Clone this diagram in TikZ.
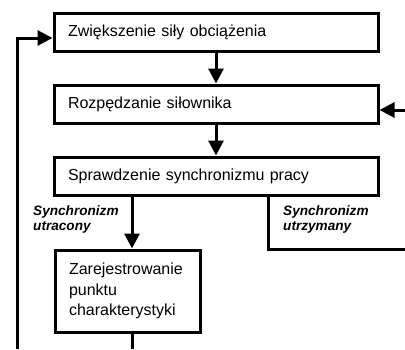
\documentclass[tikz,border=0pt]{standalone}
\usepackage{fontspec}
\setmainfont{Liberation Sans}
\usetikzlibrary{arrows.meta}
\begin{document}
\begin{tikzpicture}[x=1pt,y=-1pt,
  box/.style={draw,line width=3pt,inner xsep=14pt,inner ysep=0pt,align=left,
    font=\fontsize{16}{20.5}\selectfont,anchor=center},
  lbl/.style={align=left,font=\fontsize{13.6}{15}\selectfont\bfseries\itshape,anchor=base west,inner sep=0pt},
  conn/.style={line width=3pt},
  arr/.style={conn,-{Triangle[length=15pt,width=15pt]}}]
\useasboundingbox (0,0) rectangle (405,349);
\node[box,text width=296pt,minimum height=38pt] (b1) at (216,32) {Zwiększenie siły obciążenia};
\node[box,text width=296pt,minimum height=38pt] (b2) at (216,104) {Rozpędzanie siłownika};
\node[box,text width=296pt,minimum height=38pt] (b3) at (216,176) {Sprawdzenie synchronizmu pracy};
\node[box,text width=117pt,minimum height=82pt] (b4) at (127.5,291) {Zarejestrowanie\\punktu\\charakterystyki};
\node[lbl] (l1) at (33,230) {Synchronizm\\utracony};
\node[lbl] (l2) at (283,230) {Synchronizm\\utrzymany};
\coordinate (lb) at (17,349);
\coordinate (lt) at (17,38);
\coordinate (rin) at (405,110);
\coordinate (rc) at (268,249);
\coordinate (rout) at (405,249);
\coordinate (ax) at (132,0);
\coordinate (bb) at (132,349);
\draw[arr] (b1.south) -- (b2.north);
\draw[arr] (b2.south) -- (b3.north);
\draw[arr] (ax |- b3.south) -- (ax |- b4.north);
\draw[arr] (lb) -- (lt) -- (lt -| b1.west);
\draw[arr] (rin) -- (rin -| b2.east);
\draw[conn] (rc |- b3.south) -- (rc) -- (rout);
\draw[conn] (ax |- b4.south) -- (bb);
\end{tikzpicture}
\end{document}
